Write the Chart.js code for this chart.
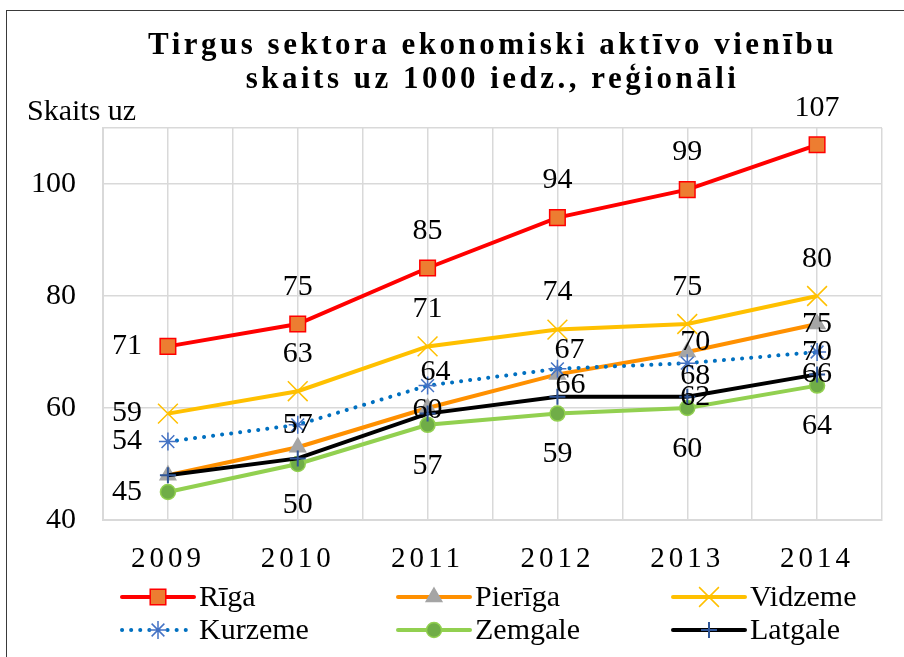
<!DOCTYPE html>
<html>
<head>
<meta charset="utf-8">
<script src="https://cdn.jsdelivr.net/npm/chart.js"></script>
<style>
  body { margin: 0; background: #fff; }
  #wrap { position: relative; width: 904px; height: 657px; overflow: hidden; background: #fff; }
  #frame { position: absolute; left: 6px; top: 10px; width: 1000px; height: 700px; border: 1.5px solid #3a3a3a; }
  #chart { position: absolute; left: 0; top: 0; }
</style>
</head>
<body>
<div id="wrap">
  <div id="frame"></div>
  <canvas id="chart" width="904" height="657"></canvas>
</div>
<script>
const years = ['2009', '2010', '2011', '2012', '2013', '2014'];
const riga = [71, 75, 85, 94, 99, 107];
const pieriga = [48, 53, 60, 66, 70, 75];
const vidzeme = [59, 63, 71, 74, 75, 80];
const kurzeme = [54, 57, 64, 67, 68, 70];
const zemgale = [45, 50, 57, 59, 60, 64];
const latgale = [48, 51, 59, 62, 62, 66];
const yTicks = [40, 60, 80, 100];
const yMax = 110;

const FONT = "'Liberation Serif', 'Times New Roman', serif";

// where Excel put each value label, relative to its point (null = not shown)
const L = [-41, 0], A = [0, -37], B = [0, 41], C = [0, 0];
const labelPos = [
  [L, A, A, A, A, A],
  [null, null, [0, 2], [13, 11], [8, -10], C],
  [L, A, A, A, A, A],
  [L, C, [8, -13], [12, -19], [8, 13], C],
  [L, B, B, B, B, B],
  [null, null, null, null, [8, 0], C],
];

const series = [
  { label: 'Rīga', data: riga, line: '#ff0000', style: 'rect', radius: 11, fill: '#ed7d31', edge: '#ff0000' },
  { label: 'Pierīga', data: pieriga, line: '#ff9000', style: 'triangle', radius: 9, fill: '#a5a5a5', edge: '#a5a5a5' },
  { label: 'Vidzeme', data: vidzeme, line: '#ffc000', style: 'crossRot', radius: 14, fill: '#ffc000', edge: '#ffc000' },
  { label: 'Kurzeme', data: kurzeme, line: '#0070c0', style: 'star', radius: 9, fill: '#4472c4', edge: '#4472c4', dash: [0.1, 9] },
  { label: 'Zemgale', data: zemgale, line: '#92d050', style: 'circle', radius: 7.5, fill: '#70ad47', edge: '#92d050' },
  { label: 'Latgale', data: latgale, line: '#000000', style: 'cross', radius: 8, fill: '#2f5597', edge: '#2f5597' },
];

const datasets = series.map((s, i) => ({
  label: s.label,
  data: s.data.map((v, j) => ({ x: j, y: v })),
  borderColor: s.line,
  borderWidth: 4,
  borderDash: s.dash || [],
  borderCapStyle: s.dash ? 'round' : 'butt',
  pointStyle: s.style,
  pointRadius: s.radius,
  pointBackgroundColor: s.fill,
  pointBorderColor: s.edge,
  pointBorderWidth: s.style === 'cross' ? 2 : 1.5,
  tension: 0,
  order: series.length - i,
}));

function wrapSpacing(obj, name, sp) {
  const orig = obj[name];
  obj[name] = function (...args) {
    const c = this.ctx;
    c.save();
    c.letterSpacing = sp;
    orig.apply(this, args);
    c.restore();
  };
}

const extras = {
  id: 'extras',
  beforeDraw(chart) {
    if (chart._spaced) return;
    chart._spaced = true;
    wrapSpacing(chart.titleBlock, 'draw', '3.5px');
    wrapSpacing(chart.scales.x, 'drawLabels', '4px');
  },
  afterDatasetsDraw(chart) {
    const ctx = chart.ctx;
    ctx.save();
    ctx.font = `30px ${FONT}`;
    ctx.fillStyle = '#000';
    ctx.textAlign = 'center';
    ctx.textBaseline = 'middle';
    chart.data.datasets.forEach((ds, i) => {
      const meta = chart.getDatasetMeta(i);
      meta.data.forEach((pt, j) => {
        const off = labelPos[i][j];
        if (!off) return;
        ctx.fillText(String(series[i].data[j]), pt.x + off[0], pt.y + off[1]);
      });
    });
    ctx.restore();
  },
  afterDraw(chart) {
    const ctx = chart.ctx;
    ctx.save();
    ctx.fillStyle = '#000';
    ctx.font = `30px ${FONT}`;
    ctx.textBaseline = 'alphabetic';
    ctx.textAlign = 'left';
    ctx.fillText('Skaits uz', 27, 120);

    // legend: three columns, two rows
    const cols = [122, 398, 673];
    const rows = [597, 630];
    ctx.textBaseline = 'middle';
    series.forEach((s, i) => {
      const x = cols[i % 3];
      const y = rows[Math.floor(i / 3)];
      ctx.save();
      ctx.strokeStyle = s.line;
      ctx.lineWidth = 4;
      ctx.lineCap = 'round';
      ctx.setLineDash(s.dash || []);
      ctx.beginPath();
      ctx.moveTo(x, y);
      ctx.lineTo(x + 72, y);
      ctx.stroke();
      ctx.restore();
      ctx.save();
      ctx.fillStyle = s.fill;
      ctx.strokeStyle = s.edge;
      ctx.lineWidth = s.style === 'cross' ? 2 : 1.5;
      Chart.helpers.drawPoint(ctx, { pointStyle: s.style, radius: s.radius, rotation: 0, borderWidth: ctx.lineWidth }, x + 36, y);
      ctx.restore();
      ctx.fillStyle = '#000';
      ctx.fillText(s.label, x + 77, y + 1);
    });
    ctx.restore();
  },
};

const gridColor = '#d9d9d9';

new Chart(document.getElementById('chart'), {
  type: 'line',
  data: { datasets },
  plugins: [extras],
  options: {
    responsive: false,
    animation: false,
    layout: { padding: { left: 0, right: 20, top: 0, bottom: 0 } },
    plugins: {
      legend: { display: false },
      tooltip: { enabled: false },
      title: {
        display: true,
        fullSize: false,
        text: ['Tirgus sektora ekonomiski aktīvo vienību', 'skaits uz 1000 iedz., reģionāli'],
        color: '#000',
        font: { family: FONT, size: 31, weight: 'bold', lineHeight: 1.1 },
        padding: { top: 29, bottom: 30.8 },
      },
    },
    scales: {
      x: {
        type: 'linear',
        min: -0.5,
        max: 5.5,
        afterBuildTicks: (s) => {
          const t = [];
          for (let v = -0.5; v <= 5.5; v += 0.5) t.push({ value: v });
          s.ticks = t;
        },
        afterFit: (s) => { s.height = 137; },
        grid: { color: gridColor, lineWidth: 1.5, drawTicks: false },
        border: { color: gridColor, width: 2 },
        ticks: {
          autoSkip: false,
          maxRotation: 0,
          padding: 22,
          color: '#000',
          font: { family: FONT, size: 29 },
          callback: (v) => Number.isInteger(v) ? years[v] : '',
        },
      },
      y: {
        min: 40,
        max: yMax,
        afterBuildTicks: (s) => { s.ticks = [...yTicks, yMax].map((v) => ({ value: v })); },
        afterFit: (s) => { s.width = 103; },
        grid: { color: gridColor, lineWidth: 1.5, drawTicks: false },
        border: { color: gridColor, width: 2 },
        ticks: {
          padding: 27,
          color: '#000',
          font: { family: FONT, size: 30 },
          callback: (v) => v === yMax ? '' : v,
        },
      },
    },
  },
});
</script>
</body>
</html>
